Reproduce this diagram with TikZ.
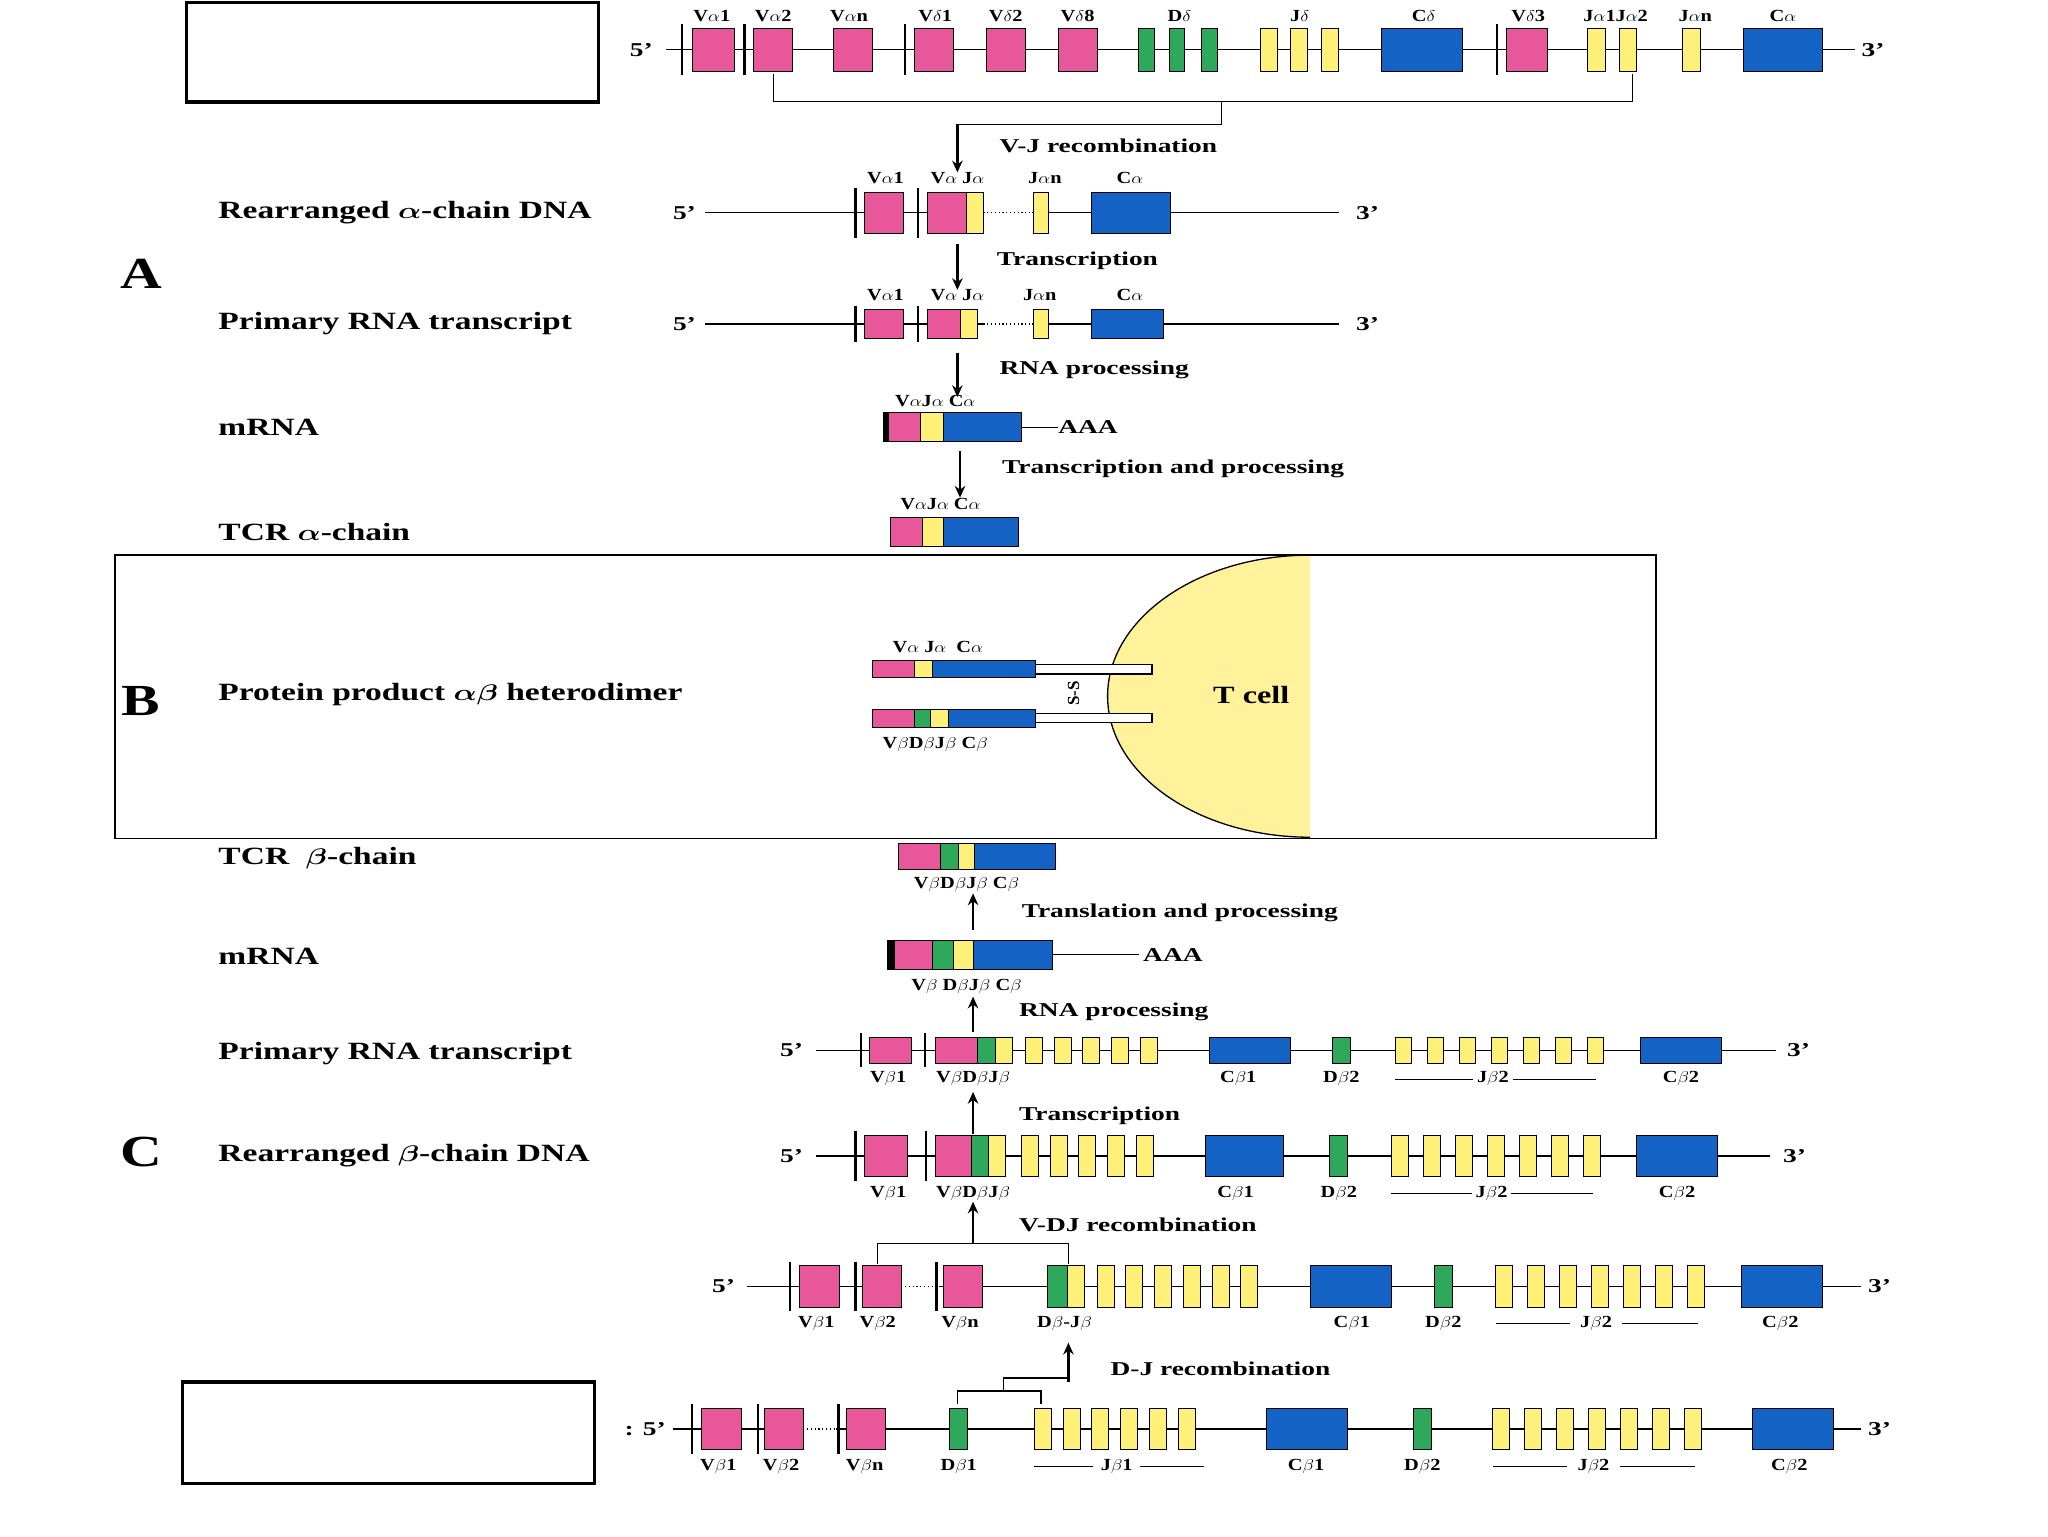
\documentclass[tikz,border=0pt]{standalone}
\usepackage{amsmath}
\usepackage{fontspec}
\setmainfont{Liberation Serif}
\usetikzlibrary{arrows.meta}
\begin{document}
\definecolor{pk}{HTML}{E8579A}
\definecolor{yl}{HTML}{FFF07A}
\definecolor{gn}{HTML}{2EA85A}
\definecolor{bl}{HTML}{1362C4}
\definecolor{tc}{HTML}{FFF29A}
\newcommand\bx[5]{\draw[#5] (#1,{#3-#4/2}) rectangle (#2,{#3+#4/2});}
\newcommand\ys[6]{\foreach \i in {1,...,#2}{\draw[J] ({#1+(\i-1)*#3},{#5-#6/2}) rectangle ({#1+(\i-1)*#3+#4},{#5+#6/2});}}
\newcommand\tk[3]{\draw[line width=1.6pt] (#1,{#2-#3/2-3}) -- (#1,{#2+#3/2+3});}
\begin{tikzpicture}[x=1pt,y=-1pt,
 V/.style={fill=pk,draw=black,line width=0.7pt},
 J/.style={fill=yl,draw=black,line width=0.7pt},
 D/.style={fill=gn,draw=black,line width=0.7pt},
 C/.style={fill=bl,draw=black,line width=0.7pt},
 K/.style={fill=black,draw=black},
 ln/.style={line width=0.9pt},
 dt/.style={line width=0.9pt,dotted},
 big/.style={font=\fontsize{19}{21}\selectfont\bfseries,anchor=west,inner sep=0,xscale=1.35},
 sm/.style={font=\fontsize{13}{14}\selectfont\bfseries,inner sep=0,xscale=1.2},
 md/.style={font=\fontsize{15}{16}\selectfont\bfseries,anchor=west,inner sep=0,xscale=1.4},
 lt/.style={font=\fontsize{34}{36}\selectfont\bfseries,inner sep=0,xscale=1.3},
 ar/.style={-{Stealth[length=9pt,width=8pt]},line width=2pt}]
\useasboundingbox[fill=white] (0,0) rectangle (1568,1176);
% empty boxes
\draw[line width=2.5pt] (143,2) rectangle (458,78);
\draw[line width=2.5pt] (140,1058) rectangle (455,1136);
\node[lt] at (108,210) {A};
\node[lt] at (108,537) {B};
\node[lt] at (108,882) {C};
% ---- Row 1
\draw[ln] (510,38) -- (1420,38);
\draw[dt,white,line width=2pt] (607,38)--(638,38) (785,38)--(810,38) (1253,38)--(1288,38);
\draw[dt] (607,38)--(638,38) (785,38)--(810,38) (1253,38)--(1288,38);
\foreach \x in {522,570,693,1146} {\tk{\x}{38}{33}}
\bx{530}{562}{38}{33}{V}\bx{577}{607}{38}{33}{V}\bx{638}{668}{38}{33}{V}
\bx{700}{730}{38}{33}{V}\bx{755}{785}{38}{33}{V}\bx{810}{840}{38}{33}{V}
\foreach \x in {872,895,920}{\bx{\x}{\x+12}{38}{33}{D}}
\foreach \x in {965,988,1012}{\bx{\x}{\x+13}{38}{33}{J}}
\bx{1058}{1120}{38}{33}{C}\bx{1153}{1185}{38}{33}{V}
\bx{1215}{1229}{38}{33}{J}\bx{1240}{1253}{38}{33}{J}\bx{1288}{1302}{38}{33}{J}
\bx{1335}{1395}{38}{33}{C}
\node[md] at (482,38) {5’};\node[md] at (1425,38) {3’};
\foreach \x/\t in {545/V$\alpha$1,592/V$\alpha$2,650/V$\alpha$n,716/V$\delta$1,770/V$\delta$2,825/V$\delta$8,903/D$\delta$,995/J$\delta$,1090/C$\delta$,1170/V$\delta$3,1237/J$\alpha$1J$\alpha$2,1298/J$\alpha$n,1365/C$\alpha$}{\node[sm] at (\x,12) {\t};}
\draw[ln] (592,57)--(592,78)--(1250,78)--(1250,57);
\draw[ln] (935,78)--(935,95)--(733,95);
\draw[ar] (733,95)--(733,132);
\node[md] at (765,112) {V-J recombination};
% ---- Row 2
\node[big] at (167,163) {Rearranged $\boldsymbol\alpha$-chain DNA};
\node[md] at (515,163) {5’};\node[md] at (1038,163) {3’};
\draw[ln] (540,163)--(1025,163);
\draw[white,line width=2pt] (753,163)--(790,163);\draw[dt] (753,163)--(790,163);
\tk{655}{163}{32}\tk{703}{163}{32}
\bx{662}{692}{163}{32}{V}\bx{710}{740}{163}{32}{V}\bx{740}{753}{163}{32}{J}
\bx{791}{803}{163}{32}{J}\bx{836}{896}{163}{32}{C}
\foreach \x/\t in {678/V$\alpha$1,733/V$\alpha$ J$\alpha$,800/J$\alpha$n,865/C$\alpha$}{\node[sm] at (\x,136) {\t};}
\draw[ar] (733,187)--(733,222);
\node[md] at (763,200) {Transcription};
% ---- Row 3
\node[big] at (167,248) {Primary RNA transcript};
\node[md] at (515,248) {5’};\node[md] at (1038,248) {3’};
\draw[ln] (540,248)--(1025,248);
\draw[white,line width=2pt] (753,248)--(790,248);\draw[dt] (753,248)--(790,248);
\tk{655}{248}{22}\tk{703}{248}{22}
\bx{662}{692}{248}{22}{V}\bx{710}{735}{248}{22}{V}\bx{735}{748}{248}{22}{J}
\bx{791}{803}{248}{22}{J}\bx{836}{891}{248}{22}{C}
\foreach \x/\t in {678/V$\alpha$1,733/V$\alpha$ J$\alpha$,796/J$\alpha$n,865/C$\alpha$}{\node[sm] at (\x,226) {\t};}
\draw[ar] (733,270)--(733,304);
\node[md] at (765,283) {RNA processing};
% ---- Row 4
\node[big] at (167,327) {mRNA};
\draw[ln] (782,327)--(810,327);\node[md] at (810,327) {AAA};
\bx{676}{680}{327}{22}{K}\bx{680}{705}{327}{22}{V}\bx{705}{722}{327}{22}{J}\bx{722}{782}{327}{22}{C}
\node[sm] at (716,307) {V$\alpha$J$\alpha$\ C$\alpha$};
\draw[ar] (735,345)--(735,381);
\node[md] at (767,359) {Transcription and processing};
% ---- Row 5
\node[big] at (167,407) {TCR $\boldsymbol\alpha$-chain};
\bx{682}{706}{407}{22}{V}\bx{706}{722}{407}{22}{J}\bx{722}{780}{407}{22}{C}
\node[sm] at (720,386) {V$\alpha$J$\alpha$\ C$\alpha$};
% ---- Box B
\fill[tc] (1003,641) arc[start angle=90,end angle=270,x radius=155,y radius=108] -- cycle;
\draw[line width=1pt] (1003,641) arc[start angle=90,end angle=270,x radius=155,y radius=108];
\draw[line width=1.3pt] (88,425) rectangle (1268,642);
\node[big] at (167,532) {Protein product $\boldsymbol{\alpha\beta}$ heterodimer};
\node[font=\fontsize{19}{21}\selectfont\bfseries,xscale=1.3] at (958,532) {T cell};
\draw[line width=0.9pt,fill=white] (793,509) rectangle (882,516);
\draw[line width=0.9pt,fill=white] (793,546) rectangle (882,553);
\bx{668}{700}{512.5}{13}{V}\bx{700}{714}{512.5}{13}{J}\bx{714}{793}{512.5}{13}{C}
\bx{668}{700}{550}{14}{V}\bx{700}{712}{550}{14}{D}\bx{712}{726}{550}{14}{J}\bx{726}{793}{550}{14}{C}
\node[font=\fontsize{13}{14}\selectfont\bfseries,rotate=90,inner sep=0] at (822,531) {S-S};
\node[sm] at (718,495) {V$\alpha$ J$\alpha$\ \ C$\alpha$};
\node[sm] at (716,570) {V$\beta$D$\beta$J$\beta$ C$\beta$};
% ---- Row 6
\node[big] at (167,657) {TCR\ \ $\boldsymbol\beta$-chain};
\bx{688}{720}{656}{20}{V}\bx{720}{734}{656}{20}{D}\bx{734}{746}{656}{20}{J}\bx{746}{808}{656}{20}{C}
\node[sm] at (740,677) {V$\beta$D$\beta$J$\beta$\ C$\beta$};
\draw[ar] (745,712)--(745,684);
\node[md] at (782,699) {Translation and processing};
% ---- Row 7
\node[big] at (167,732) {mRNA};
\draw[ln] (806,731)--(872,731);\node[md] at (875,731) {AAA};
\bx{679}{685}{731}{22}{K}\bx{685}{714}{731}{22}{V}\bx{714}{730}{731}{22}{D}\bx{730}{745}{731}{22}{J}\bx{745}{806}{731}{22}{C}
\node[sm] at (740,755) {V$\beta$ D$\beta$J$\beta$\ C$\beta$};
\draw[ar] (745,790)--(745,763);
\node[md] at (780,775) {RNA processing};
% ---- Row 8
\node[big] at (167,807) {Primary RNA transcript};
\node[md] at (597,804) {5’};\node[md] at (1368,804) {3’};
\draw[ln] (625,804)--(1360,804);
\tk{659}{804}{20}\tk{708}{804}{20}
\bx{666}{698}{804}{20}{V}\bx{716}{748}{804}{20}{V}\bx{748}{762}{804}{20}{D}\bx{762}{775}{804}{20}{J}
\ys{785}{5}{22}{13}{804}{20}
\bx{926}{988}{804}{20}{C}\bx{1020}{1034}{804}{20}{D}
\ys{1068}{7}{24.5}{13}{804}{20}
\bx{1256}{1318}{804}{20}{C}
\foreach \x/\t in {680/V$\beta$1,745/V$\beta$D$\beta$J$\beta$,948/C$\beta$1,1027/D$\beta$2,1143/J$\beta$2,1287/C$\beta$2}{\node[sm] at (\x,826) {\t};}
\draw[line width=0.5pt] (1068,826)--(1128,826) (1158,826)--(1222,826);
\draw[ar] (745,868)--(745,836);
\node[md] at (780,854) {Transcription};
% ---- Row 9
\node[big] at (167,885) {Rearranged $\boldsymbol\beta$-chain DNA};
\node[md] at (597,885) {5’};\node[md] at (1365,885) {3’};
\draw[ln] (625,885)--(1355,885);
\tk{655}{885}{32}\tk{709}{885}{32}
\bx{662}{695}{885}{32}{V}\bx{716}{744}{885}{32}{V}\bx{744}{757}{885}{32}{D}\bx{757}{770}{885}{32}{J}
\ys{782}{5}{22}{13}{885}{32}
\bx{923}{983}{885}{32}{C}\bx{1018}{1032}{885}{32}{D}
\ys{1065}{7}{24.5}{13}{885}{32}
\bx{1253}{1315}{885}{32}{C}
\foreach \x/\t in {680/V$\beta$1,745/V$\beta$D$\beta$J$\beta$,946/C$\beta$1,1025/D$\beta$2,1142/J$\beta$2,1284/C$\beta$2}{\node[sm] at (\x,914) {\t};}
\draw[line width=0.5pt] (1065,914)--(1127,914) (1157,914)--(1220,914);
\draw[ar] (745,952)--(745,920);
\node[md] at (780,938) {V-DJ recombination};
\draw[ln] (672,968)--(672,952)--(818,952)--(818,968);
% ---- Row 10
\node[md] at (545,985) {5’};\node[md] at (1430,985) {3’};
\draw[ln] (572,985)--(1425,985);
\draw[white,line width=2pt] (690,985)--(720,985);\draw[dt] (690,985)--(720,985);
\tk{605}{985}{32}\tk{655}{985}{32}\tk{717}{985}{32}
\bx{612}{643}{985}{32}{V}\bx{660}{690}{985}{32}{V}\bx{722}{752}{985}{32}{V}
\bx{802}{817}{985}{32}{D}\bx{817}{830}{985}{32}{J}
\ys{840}{6}{22}{13}{985}{32}
\bx{1003}{1065}{985}{32}{C}\bx{1098}{1112}{985}{32}{D}
\ys{1145}{7}{24.5}{13}{985}{32}
\bx{1333}{1395}{985}{32}{C}
\foreach \x/\t in {625/V$\beta$1,672/V$\beta$2,735/V$\beta$n,815/D$\beta$-J$\beta$,1035/C$\beta$1,1105/D$\beta$2,1222/J$\beta$2,1363/C$\beta$2}{\node[sm] at (\x,1013) {\t};}
\draw[line width=0.5pt] (1145,1013)--(1202,1013) (1242,1013)--(1300,1013);
\draw[ar] (818,1058)--(818,1028);
\node[md] at (850,1048) {D-J recombination};
\draw[ln] (733,1075)--(733,1065)--(797,1065)--(797,1075);
\draw[ln] (768,1065)--(768,1055)--(818,1055);
% ---- Row 11
\node[md] at (478,1094) {: 5’};\node[md] at (1430,1094) {3’};
\draw[ln] (515,1094)--(1425,1094);
\draw[white,line width=2pt] (615,1094)--(640,1094);\draw[dt] (615,1094)--(640,1094);
\tk{530}{1094}{32}\tk{580}{1094}{32}\tk{642}{1094}{32}
\bx{537}{568}{1094}{32}{V}\bx{585}{615}{1094}{32}{V}\bx{648}{678}{1094}{32}{V}
\bx{727}{741}{1094}{32}{D}
\ys{792}{6}{22}{13}{1094}{32}
\bx{970}{1032}{1094}{32}{C}\bx{1082}{1096}{1094}{32}{D}
\ys{1143}{7}{24.5}{13}{1094}{32}
\bx{1342}{1404}{1094}{32}{C}
\foreach \x/\t in {550/V$\beta$1,598/V$\beta$2,662/V$\beta$n,734/D$\beta$1,855/J$\beta$1,1000/C$\beta$1,1089/D$\beta$2,1220/J$\beta$2,1370/C$\beta$2}{\node[sm] at (\x,1123) {\t};}
\draw[line width=0.5pt] (792,1123)--(837,1123) (873,1123)--(922,1123) (1143,1123)--(1200,1123) (1240,1123)--(1298,1123);
\end{tikzpicture}
\end{document}
